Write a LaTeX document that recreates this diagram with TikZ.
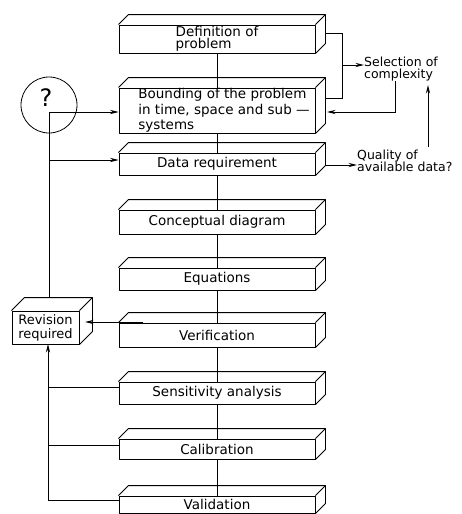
\documentclass[tikz,border=0pt]{standalone}
\usepackage{fontspec}
\setmainfont{DejaVu Sans}
\usetikzlibrary{arrows.meta,calc}
\newcommand\mainfs{\fontsize{13.5}{15.5}\selectfont}
\newcommand\deffs{\fontsize{13.5}{12.5}\selectfont}
\newcommand\sidefs{\fontsize{12.5}{12.5}\selectfont}
\newcommand\revfs{\fontsize{13}{14}\selectfont}
\newcommand\qfs{\fontsize{24}{24}\selectfont}
\newcommand\cubeface[3]{%
  \draw[boxline] (#1.north west) -- ($(#1.north west)+(#2,#3)$) -- ($(#1.north east)+(#2,#3)$) -- ($(#1.south east)+(#2,#3)$) -- (#1.south east);
  \draw[boxline] (#1.north east) -- ($(#1.north east)+(#2,#3)$);}
\begin{document}
\begin{tikzpicture}[x=1pt,y=-1pt,
  boxline/.style={line width=0.9pt, line join=round},
  stage/.style={boxline, draw, minimum width=196pt, minimum height=22pt, inner sep=0pt, align=center, font=\mainfs},
  link/.style={line width=0.8pt},
  arr/.style={link, -{Stealth[length=8.5pt,width=4.2pt]}},
  side/.style={anchor=west, align=left, inner sep=0pt, font=\sidefs}]
\useasboundingbox (0,0) rectangle (461,514);
% main stages
\node[stage, minimum height=28pt, font=\deffs, align=left] (def) at (217,39) {Definition of\\problem};
\node[stage, minimum height=45pt, align=left] (bound) at (217,110.5) {\hspace*{14pt}Bounding of the problem\\\hspace*{14pt}in time, space and sub —\\\hspace*{14pt}systems};
\node[stage] (data) at (217,164) {Data requirement};
\node[stage, minimum height=24pt] (concept) at (217,222) {Conceptual diagram};
\node[stage] (eq) at (217,279) {Equations};
\node[stage, minimum height=24pt] (verif) at (217,335) {Verification};
\node[stage] (sens) at (217,393) {Sensitivity analysis};
\node[stage, minimum height=20pt] (calib) at (217,449) {Calibration};
\node[stage, minimum height=17pt] (valid) at (217,504.5) {Validation};
\foreach \n in {def,bound,data,concept,eq,verif,sens,calib,valid} {\cubeface{\n}{10}{-10}}
% revision box and question circle
\node[boxline, draw, minimum width=67pt, minimum height=33pt, inner sep=0pt, align=center, font=\revfs] (rev) at (45.5,327.5) {Revision\\required};
\cubeface{rev}{13}{-13}
\node[draw, circle, line width=0.8pt, minimum size=56pt, inner sep=0pt] (q) at (49,105) {};
\node[font=\qfs, inner sep=0pt] (qm) at (46,98) {?};
% side texts
\node[side] (sel) at (364,69) {Selection of\\complexity};
\node[side] (qual) at (357,161) {Quality of\\available data?};
% central connectors
\foreach \a/\b in {def/bound,bound/data,data/concept,concept/eq,eq/verif,verif/sens,sens/calib,calib/valid}
  \draw[link] (\a.south) -- (\b.north);
% left feedback loop
\coordinate (revtop) at (49,298);
\coordinate (jb) at (49,112);
\draw[arr] (revtop) -- (jb) -- (jb -| bound.west);
\coordinate (jd) at (49,160);
\draw[arr] (jd) -- (jd -| data.west);
\coordinate (vs) at (143,322);
\coordinate (ve) at (85,322);
\draw[arr] (vs) -- (ve);
\coordinate (revbot) at (48,344);
\coordinate (jv) at (48,500);
\draw[arr] (jv -| valid.west) -- (jv) -- (revbot);
\coordinate (js) at (48,387);
\draw[link] (js) -- (js -| sens.west);
\coordinate (jc) at (48,445);
\draw[link] (jc) -- (jc -| calib.west);
% right side
\coordinate (dR) at (325,33);
\coordinate (c1) at (342,33);
\coordinate (c2) at (342,98);
\coordinate (bR) at (325,98);
\draw[link] (dR) -- (c1) -- (c2) -- (bR);
\coordinate (jsel) at (342,65);
\draw[arr] (jsel) -- (jsel -| sel.west);
\coordinate (sdown) at (395,112);
\coordinate (bRin) at (327,112);
\draw[arr] (sel.south -| sdown) -- (sdown) -- (bRin);
\coordinate (dataR) at (325,165);
\draw[arr] (dataR) -- (dataR -| qual.west);
\coordinate (up1) at (428,147);
\coordinate (up2) at (428,85);
\draw[arr] (up1) -- (up2);
\end{tikzpicture}
\end{document}
